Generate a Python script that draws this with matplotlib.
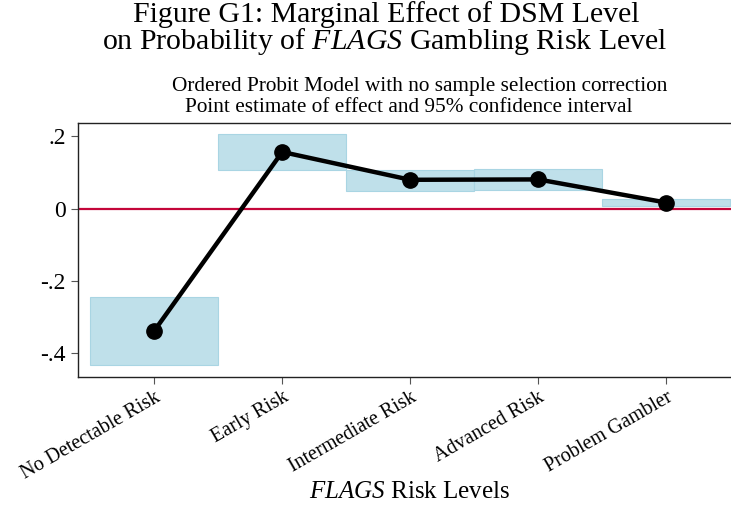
import numpy as np
import matplotlib
matplotlib.use('Agg')
import matplotlib.pyplot as plt

# marginal effects by FLAGS risk level, with 95% CI bounds
levels = ['No Detectable Risk', 'Early Risk', 'Intermediate Risk',
          'Advanced Risk', 'Problem Gambler']
effect = [-0.338, 0.157, 0.080, 0.081, 0.017]
ci_low = [-0.432, 0.108, 0.050, 0.052, 0.008]
ci_high = [-0.245, 0.206, 0.107, 0.110, 0.027]

yticks = [-0.4, -0.2, 0, 0.2]
ytick_labels = ['-.4', '-.2', '0', '.2']

plt.rcParams['font.family'] = ['Liberation Serif', 'DejaVu Serif']
plt.rcParams['mathtext.fontset'] = 'custom'
plt.rcParams['mathtext.rm'] = 'Liberation Serif'
plt.rcParams['mathtext.it'] = 'Liberation Serif:italic'

W, H = 731, 508
fig = plt.figure(figsize=(W / 100, H / 100), dpi=100)
ax = fig.add_axes([77.5 / W, 1 - 376.7 / H, 659 / W, (376.7 - 122.7) / H])

x = np.arange(1, len(levels) + 1)
low = np.array(ci_low)
high = np.array(ci_high)
ax.bar(x, high - low, bottom=low, width=1.0, color='#bfe0ea',
       edgecolor='#a9d5e3', linewidth=0.8, zorder=1)
ax.axhline(0, color='#c4063a', linewidth=1.6, zorder=2)
ax.plot(x, effect, color='black', linewidth=3.2, marker='o',
        markersize=11, zorder=3)

ax.set_xlim(0.4, 5.55)
ax.set_ylim(-0.465, 0.238)
ax.set_yticks(yticks)
ax.set_yticklabels(ytick_labels, fontsize=17)
ax.set_xticks(x)
ax.set_xticklabels(levels, rotation=30, ha='right', rotation_mode='anchor',
                   fontsize=14.5)
ax.tick_params(axis='both', length=5, width=0.8, color='#555555')
ax.tick_params(axis='x', pad=3)
for side in ['left', 'bottom', 'top', 'right']:
    ax.spines[side].set_linewidth(1.0)
    ax.spines[side].set_color('#222222')

fig.text(386 / W, 1 - 22 / H, 'Figure G1: Marginal Effect of DSM Level',
         ha='center', va='baseline', fontsize=21.5)
fig.text(385 / W, 1 - 49 / H,
         r'on Probability of $\mathit{FLAGS}$ Gambling Risk Level',
         ha='center', va='baseline', fontsize=21.5)
fig.text(420 / W, 1 - 87 / H,
         'Ordered Probit Model with no sample selection correction',
         ha='center', va='center', fontsize=15.3)
fig.text(409 / W, 1 - 107 / H,
         'Point estimate of effect and 95% confidence interval',
         ha='center', va='center', fontsize=15.3)
fig.text(410 / W, 1 - 492 / H, r'$\mathit{FLAGS}$ Risk Levels',
         ha='center', va='center', fontsize=18)

fig.savefig('out.png', dpi=100)
